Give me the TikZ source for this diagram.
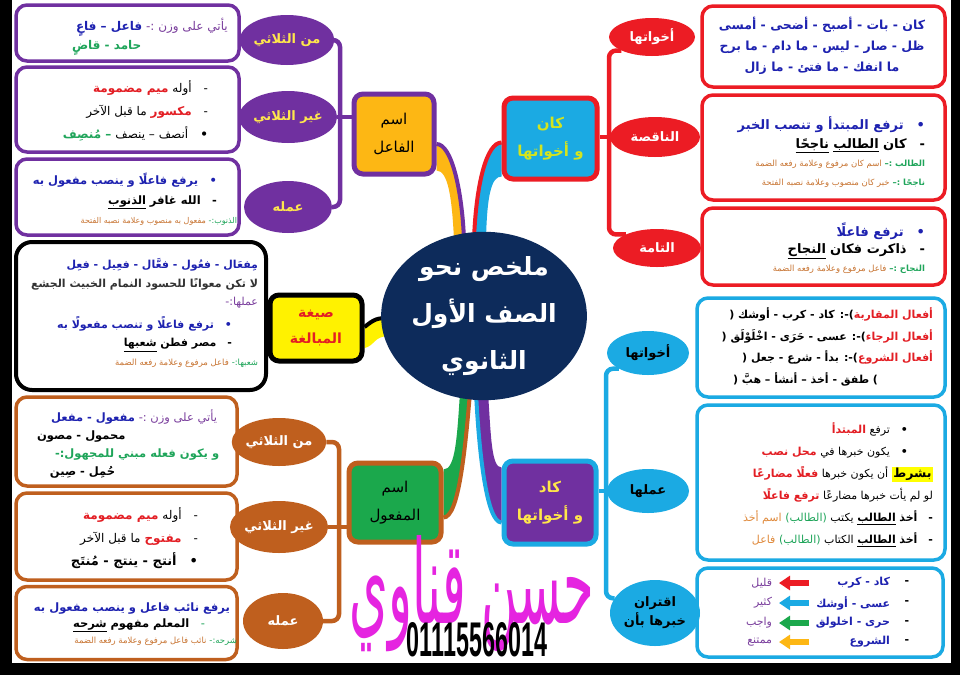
\documentclass[tikz,border=0pt]{standalone}
\usepackage{fontspec}
\usepackage{graphicx}
\usetikzlibrary{shapes.geometric,calc,arrows.meta}
\newfontfamily\arn[Script=Arabic]{DejaVu Sans}
\newfontfamily\latn{Liberation Sans}
\TeXXeTstate=1
\newcommand\fsz[2]{\fontsize{#1}{#2}\selectfont}
\newcommand\ArB[2]{{\arn\bfseries\color{#1}\beginR#2\endR}}
\newcommand\ArN[2]{{\arn\color{#1}\beginR#2\endR}}
\newcommand\ArU[2]{\underline{\ArB{#1}{#2}}}
\definecolor{purpleC}{HTML}{7030A0}
\definecolor{redC}{HTML}{EC1C24}
\definecolor{cyanC}{HTML}{1BAAE3}
\definecolor{brownC}{HTML}{BF5F1E}
\definecolor{orangeC}{HTML}{FDB714}
\definecolor{greenC}{HTML}{1BA84C}
\definecolor{yellowC}{HTML}{FFF200}
\definecolor{navyC}{HTML}{0D2B5B}
\definecolor{tblue}{HTML}{1E22B0}
\definecolor{tgreen}{HTML}{1FA55A}
\definecolor{tbrown}{HTML}{C87533}
\definecolor{tpurple}{HTML}{7A3E9D}
\definecolor{tred}{HTML}{E31E24}
\definecolor{tdark}{HTML}{333333}
\definecolor{torange}{HTML}{E08A3C}
\definecolor{labY}{HTML}{FFE74C}
\definecolor{kanT}{HTML}{D4E41E}
\definecolor{kadT}{HTML}{FFE64A}
\definecolor{sigM}{HTML}{E524E0}
\definecolor{hl}{HTML}{FFFF00}
\pgfdeclarelayer{bg}
\pgfsetlayers{bg,main}
\tikzset{
 txt/.style={inner sep=0pt, outer sep=0pt},
 cbox/.style={draw=#1, fill=white, rounded corners=11pt, line width=3.5pt, inner sep=0pt},
 mbox/.style={draw=#1, line width=5pt, rounded corners=9pt, inner sep=0pt, align=center},
 ell/.style={ellipse, fill=#1, inner sep=0pt, align=center, font=\fsz{13}{16}},
 brk/.style={draw=#1, line width=4.5pt, rounded corners=7pt},
 arr/.style={draw=#1, line width=6pt, -{Triangle[length=11pt,width=14pt]}},
}
\begin{document}
\begin{tikzpicture}[x=1pt,y=-1pt]
\useasboundingbox (0,0) rectangle (960,675);
\begin{pgfonlayer}{bg}
\fill[black] (0,0) rectangle (960,675);
\fill[white] (12,0) rectangle (951,663);
\end{pgfonlayer}

% centre
\node[ellipse, fill=navyC, minimum width=182pt, minimum height=158pt, inner sep=0pt, align=center, font=\fsz{25}{47}] (ctr) at (484,316) {\ArB{white}{ملخص نحو}\\\ArB{white}{الصف الأول}\\\ArB{white}{الثانوي}};

% main boxes
\node[mbox=purpleC, fill=orangeC, minimum width=80pt, minimum height=80pt, font=\fsz{15}{28}] (fa) at (394,134) {\ArN{black}{اسم}\\\ArN{black}{الفاعل}};
\node[mbox=redC, fill=cyanC, minimum width=93pt, minimum height=81pt, font=\fsz{15}{28}] (kan) at (550.5,138.5) {\ArB{kanT}{كان}\\\ArB{kanT}{و أخواتها}};
\node[mbox=black, fill=yellowC, minimum width=92pt, minimum height=66pt, font=\fsz{14}{26}] (sig) at (316,328) {\ArB{tred}{صيغة}\\\ArB{tred}{المبالغة}};
\node[mbox=brownC, fill=greenC, minimum width=92pt, minimum height=79pt, font=\fsz{15}{28}] (maf) at (395,502.5) {\ArN{black}{اسم}\\\ArN{black}{المفعول}};
\node[mbox=cyanC, fill=purpleC, minimum width=92pt, minimum height=83pt, font=\fsz{15}{28}] (kad) at (550,502.5) {\ArB{kadT}{كاد}\\\ArB{kadT}{و أخواتها}};

% content boxes
\node[cbox=purpleC, minimum width=223pt, minimum height=56pt] (a1) at (127.5,33) {};
\node[cbox=purpleC, minimum width=223pt, minimum height=85pt] (a2) at (127.5,109.5) {};
\node[cbox=purpleC, minimum width=223pt, minimum height=76pt] (a3) at (127.5,197) {};
\node[cbox=black, line width=4pt, rounded corners=16pt, minimum width=250pt, minimum height=148pt] (kb) at (141,316) {};
\node[cbox=brownC, minimum width=221pt, minimum height=89pt] (c1) at (126.5,441.5) {};
\node[cbox=brownC, minimum width=221pt, minimum height=87pt] (c2) at (126.5,536.5) {};
\node[cbox=brownC, minimum width=221pt, minimum height=73pt] (c3) at (126.5,623) {};
\node[cbox=redC, minimum width=243pt, minimum height=81pt] (b1) at (823.5,46.5) {};
\node[cbox=redC, minimum width=243pt, minimum height=105pt] (b2) at (823.5,147.5) {};
\node[cbox=redC, minimum width=243pt, minimum height=77pt] (b3) at (823.5,246.5) {};
\node[cbox=cyanC, minimum width=248pt, minimum height=99pt] (d1) at (821,347.5) {};
\node[cbox=cyanC, minimum width=248pt, minimum height=155pt] (d2) at (821,482.5) {};
\node[cbox=cyanC, minimum width=246pt, minimum height=89pt] (d3) at (820,612.5) {};

% ellipses
\node[ell=purpleC, minimum width=92pt, minimum height=50pt] (p1) at (287,40) {\ArB{labY}{من الثلاثي}};
\node[ell=purpleC, minimum width=92pt, minimum height=52pt] (p2) at (288,117) {\ArB{labY}{غير الثلاثي}};
\node[ell=purpleC, minimum width=88pt, minimum height=52pt] (p3) at (288,207) {\ArB{labY}{عمله}};
\node[ell=redC, minimum width=86pt, minimum height=38pt] (r1) at (652,37) {\ArB{white}{أخواتها}};
\node[ell=redC, minimum width=90pt, minimum height=40pt] (r2) at (655,137) {\ArB{white}{الناقصة}};
\node[ell=redC, minimum width=88pt, minimum height=38pt] (r3) at (657,248) {\ArB{white}{التامة}};
\node[ell=cyanC, minimum width=82pt, minimum height=44pt] (y1) at (648,353) {\ArB{black}{أخواتها}};
\node[ell=cyanC, minimum width=82pt, minimum height=44pt] (y2) at (648,491) {\ArB{black}{عملها}};
\node[ell=cyanC, minimum width=90pt, minimum height=66pt, font=\fsz{13}{19}] (y3) at (655,613) {\ArB{black}{اقتران}\\\ArB{black}{خبرها بأن}};
\node[ell=brownC, minimum width=92pt, minimum height=48pt] (w1) at (279,442) {\ArB{white}{من الثلاثي}};
\node[ell=brownC, minimum width=88pt, minimum height=52pt] (w2) at (279,527) {\ArB{white}{غير الثلاثي}};
\node[ell=brownC, minimum width=80pt, minimum height=56pt] (w3) at (283,621) {\ArB{white}{عمله}};

% brackets and branches
\coordinate (brP) at (340,0);
\coordinate (brR) at (609,0);
\coordinate (brY) at (606,0);
\coordinate (brW) at (339,0);
\begin{pgfonlayer}{bg}
\draw[brk=purpleC] (p1.east) -- (p1.east -| brP) -- (p3.east -| brP) -- (p3.east);
\draw[brk=purpleC] (p2.east) -- (p2.east -| fa.west);
\draw[brk=redC] (r1.south west) -- (r1.south west -| brR) -- (r3.north west -| brR) -- (r3.north west);
\draw[brk=redC] (r2.west) -- (r2.west -| kan.east);
\draw[brk=cyanC] (y1.south west) -- (y1.south west -| brY) -- (y3.160 -| brY) -- (y3.160);
\draw[brk=cyanC] (y2.west) -- (y2.west -| kad.east);
\draw[brk=brownC] (w1.east) -- (w1.east -| brW) -- (w3.east -| brW) -- (w3.east);
\draw[brk=brownC] (w2.east) -- (w2.east -| maf.west);
% upper left
\fill[orangeC] ($(fa.east)+(0,10)$) .. controls +(15,0) and +(-2,-50) .. ($(ctr.north)+(-20,8)$) -- ($(ctr.north)+(-30,8)$) .. controls +(-2,-40) and +(12,0) .. ($(fa.south east)+(0,-6)$) -- cycle;
\draw[purpleC, line width=4pt] ($(fa.east)+(0,10)$) .. controls +(15,0) and +(-2,-50) .. ($(ctr.north)+(-20,8)$);
% upper right
\fill[cyanC] ($(kan.west)+(0,4)$) .. controls +(-15,0) and +(2,-55) .. ($(ctr.north)+(-10,8)$) -- ($(ctr.north)+(2,8)$) .. controls +(1,-45) and +(-10,0) .. ($(kan.west)+(0,38)$) -- cycle;
\draw[redC, line width=4pt] ($(kan.west)+(0,4)$) .. controls +(-15,0) and +(2,-55) .. ($(ctr.north)+(-10,8)$);
% bottom left
\fill[greenC] ($(maf.east)+(0,15)$) .. controls +(15,0) and +(-5,60) .. ($(ctr.south)+(-14,-8)$) -- ($(ctr.south)+(-24,-8)$) .. controls +(-3,45) and +(12,0) .. ($(maf.east)+(0,-33)$) -- cycle;
\draw[brownC, line width=4pt] ($(maf.east)+(0,15)$) .. controls +(15,0) and +(-5,60) .. ($(ctr.south)+(-14,-8)$);
% bottom right
\fill[purpleC] ($(kad.west)+(0,20)$) .. controls +(-15,0) and +(3,60) .. ($(ctr.south)+(-8,-8)$) -- ($(ctr.south)+(4,-8)$) .. controls +(3,45) and +(-10,0) .. ($(kad.west)+(0,-35)$) -- cycle;
\draw[cyanC, line width=4pt] ($(kad.west)+(0,20)$) .. controls +(-15,0) and +(3,60) .. ($(ctr.south)+(-8,-8)$);
% left
\fill[yellowC] ($(sig.east)+(0,-1)$) .. controls +(10,-8) and +(-12,0) .. ($(ctr.west)+(8,2)$) -- ($(ctr.west)+(8,20)$) .. controls +(-15,0) and +(10,-2) .. ($(sig.east)+(0,20)$) -- cycle;
\draw[black, line width=4pt] ($(sig.east)+(0,-1)$) .. controls +(10,-8) and +(-12,0) .. ($(ctr.west)+(8,2)$);
\end{pgfonlayer}

% texts purple boxes
\node[txt, anchor=west, align=left, font=\fsz{12}{19}] (a1t) at (72,37) {\hspace*{4pt}\ArB{tblue}{فاعل – فاعٍ} \ArN{tpurple}{يأتي على وزن :-}\\\ArB{tgreen}{حامد - قاضٍ}};
\node[txt, anchor=east, align=right, font=\fsz{12}{23}] (a2t) at (208,111) {\ArB{tred}{ميم مضمومة} \ArN{black}{أوله}\quad\ArN{black}{-}\\\ArN{black}{ما قبل الآخر} \ArB{tred}{مكسور}\quad\ArN{black}{-}\\\ArB{tgreen}{– مُنصِف} \ArN{black}{أنصف – ينصف}\quad\ArB{black}{•}};
\node[txt, anchor=east, align=right, font=\fsz{11.5}{19.5}] (a3t) at (237,199) {\ArB{tblue}{يرفع فاعلًا و ينصب مفعول به}\quad\ArB{tblue}{•}\kern20pt\\\ArU{black}{الذنوب} \ArB{black}{الله غافر}\quad\ArB{black}{-}\kern20pt\\{\fsz{8}{10}\ArN{tbrown}{مفعول به منصوب وعلامة نصبه الفتحة} \ArN{tgreen}{الذنوب:-}}};

% black box
\node[txt, anchor=east, align=right, font=\fsz{11}{18.5}] (kt) at (258,313) {\ArB{tblue}{مِفعَال - فعُول - فعَّال - فعِيل - فعِل}\\\ArB{tdark}{لا تكن معوانًا للحسود النمام الخبيث الجشع}\\\ArN{tpurple}{عملها:-}\\[4pt]\ArB{tblue}{ترفع فاعلًا و تنصب مفعولًا به}\quad\ArB{tblue}{•}\kern26pt\\\ArU{black}{شعبها} \ArB{black}{مصر فطن}\quad\ArB{black}{-}\kern26pt\\{\fsz{8.5}{10}\ArN{tbrown}{فاعل مرفوع وعلامة رفعه الضمة} \ArN{tgreen}{شعبها:-}}};

% brown boxes
\node[txt, anchor=west, align=left, font=\fsz{11.5}{18}] (c1t) at (37,444) {\hspace*{14pt}\ArB{tblue}{مفعول - مفعل} \ArN{tpurple}{يأتي على وزن :-}\\\ArB{black}{محمول - مصون}\\\hspace*{18pt}\ArB{tgreen}{و يكون فعله مبني للمجهول:-}\\\hspace*{13pt}\ArB{black}{حُمِل - صِين}};
\node[txt, anchor=east, align=right, font=\fsz{12}{23}] (c2t) at (198,538) {\ArB{tred}{ميم مضمومة} \ArN{black}{أوله}\quad\ArN{black}{-}\\\ArN{black}{ما قبل الآخر} \ArB{tred}{مفتوح}\quad\ArN{black}{-}\\{\fsz{13}{15}\ArB{black}{أنتج - ينتج - مُنتَج}\quad\ArB{black}{•}}};
\node[txt, anchor=east, align=right, font=\fsz{11.5}{16}] (c3t) at (237,624) {\ArB{tblue}{يرفع نائب فاعل و ينصب مفعول به}\kern7pt\\\ArU{black}{شرحه} \ArB{black}{المعلم مفهوم}\quad\ArN{tgreen}{-}\kern32pt\\{\fsz{8.5}{10}\ArN{tbrown}{نائب فاعل مرفوع وعلامة رفعه الضمة} \ArN{tgreen}{شرحه:-}}};

% red boxes
\node[txt, align=center, font=\fsz{12.5}{21}] (b1t) at (822,46) {\ArB{tblue}{كان - بات - أصبح - أضحى - أمسى}\\\ArB{tblue}{ظل - صار - ليس - ما دام - ما برح}\\\ArB{tblue}{ما انفك - ما فتئ - ما زال}};
\node[txt, anchor=east, align=right, font=\fsz{13}{18.5}] (b2t) at (925,152) {\ArB{tblue}{ترفع المبتدأ و تنصب الخبر}\quad\ArB{tblue}{•}\\\ArU{black}{ناجحًا} \ArU{black}{الطالب} \ArB{black}{كان}\quad\ArB{black}{-}\\{\fsz{8.5}{10}\ArN{tbrown}{اسم كان مرفوع وعلامة رفعه الضمة} \ArB{tgreen}{الطالب :–}}\\{\fsz{8.5}{10}\ArN{tbrown}{خبر كان منصوب وعلامة نصبه الفتحة} \ArB{tgreen}{ناجحًا :–}}};
\node[txt, anchor=east, align=right, font=\fsz{13}{17.5}] (b3t) at (925,248) {\ArB{tblue}{ترفع فاعلًا}\quad\ArB{tblue}{•}\\\ArU{black}{النجاح} \ArB{black}{ذاكرت فكان}\quad\ArB{black}{-}\\{\fsz{8.5}{10}\ArN{tbrown}{فاعل مرفوع وعلامة رفعه الضمة} \ArB{tgreen}{النجاح :–}}};

% cyan boxes
\node[txt, anchor=east, align=right, font=\fsz{11}{21.5}] (d1t) at (933,347) {\ArB{black}{)-: كاد - كرب - أوشك (}\ArB{tred}{أفعال المقاربة}\\\ArB{black}{)-: عسى - حَرَى - اخْلَوْلَق (}\ArB{tred}{أفعال الرجاء}\\\ArB{black}{)-: بدأ - شرع - جعل (}\ArB{tred}{أفعال الشروع}\\\ArB{black}{) طفق - أخذ – أنشأ – هبَّ (}\kern55pt};
\node[txt, anchor=east, align=right, font=\fsz{11}{22}] (d2t) at (933,485) {\ArB{tred}{المبتدأ} \ArN{black}{ترفع}\quad\ArB{black}{•}\kern25pt\\\ArB{tred}{محل نصب} \ArN{black}{يكون خبرها في}\quad\ArB{black}{•}\kern25pt\\\ArB{tred}{فعلًا مضارعًا} \ArN{black}{أن يكون خبرها} {\setlength\fboxsep{1.5pt}\colorbox{hl}{\fsz{12.5}{14}\ArB{black}{بشرط}}}\\\ArB{tred}{ترفع فاعلًا} \ArN{black}{لو لم يأت خبرها مضارعًا}\\\ArN{torange}{اسم أخذ} \ArN{tgreen}{(الطالب)} \ArN{black}{يكتب} \ArU{black}{الطالب} \ArB{black}{أخذ}\quad\ArB{black}{-}\\\ArN{torange}{فاعل} \ArN{tgreen}{(الطالب)} \ArN{black}{الكتاب} \ArU{black}{الطالب} \ArB{black}{أخذ}\quad\ArB{black}{-}};

% third cyan box rows
\node[txt, anchor=east, font=\fsz{11}{13}] (d3w1) at (890,583) {\ArB{tblue}{كاد - كرب}};
\node[txt, anchor=east, font=\fsz{11}{13}] (d3w2) at (890,603) {\ArB{tblue}{عسى - أوشك}};
\node[txt, anchor=east, font=\fsz{11}{13}] (d3w3) at (890,623) {\ArB{tblue}{حرى - اخلولق}};
\node[txt, anchor=east, font=\fsz{11}{13}] (d3w4) at (890,642) {\ArB{tblue}{الشروع}};
\node[txt, font=\fsz{11}{13}] (d3d1) at (907,583) {\ArB{black}{-}};
\node[txt, font=\fsz{11}{13}] (d3d2) at (907,603) {\ArB{black}{-}};
\node[txt, font=\fsz{11}{13}] (d3d3) at (907,623) {\ArB{black}{-}};
\node[txt, font=\fsz{11}{13}] (d3d4) at (907,642) {\ArB{black}{-}};
\node[txt, anchor=east, font=\fsz{11}{13}] (d3q1) at (772,583) {\ArN{tpurple}{قليل}};
\node[txt, anchor=east, font=\fsz{11}{13}] (d3q2) at (772,603) {\ArN{tpurple}{كثير}};
\node[txt, anchor=east, font=\fsz{11}{13}] (d3q3) at (772,623) {\ArN{tpurple}{واجب}};
\node[txt, anchor=east, font=\fsz{11}{13}] (d3q4) at (772,642) {\ArN{tpurple}{ممتنع}};
\coordinate (as1) at (809,583); \coordinate (ae1) at (779,583);
\coordinate (as2) at (809,603); \coordinate (ae2) at (779,603);
\coordinate (as3) at (809,623); \coordinate (ae3) at (779,623);
\coordinate (as4) at (809,642); \coordinate (ae4) at (779,642);
\draw[arr=redC] (as1) -- (ae1);
\draw[arr=cyanC] (as2) -- (ae2);
\draw[arr=greenC] (as3) -- (ae3);
\draw[arr=orangeC] (as4) -- (ae4);

% signature
\node[txt] (sgn) at (472,594) {\resizebox{245pt}{88pt}{\ArN{sigM}{حسن قناوي}}};
\node[txt] (ph) at (477,640) {\resizebox{140pt}{34pt}{\latn\bfseries 01115566014}};
\end{tikzpicture}
\end{document}
